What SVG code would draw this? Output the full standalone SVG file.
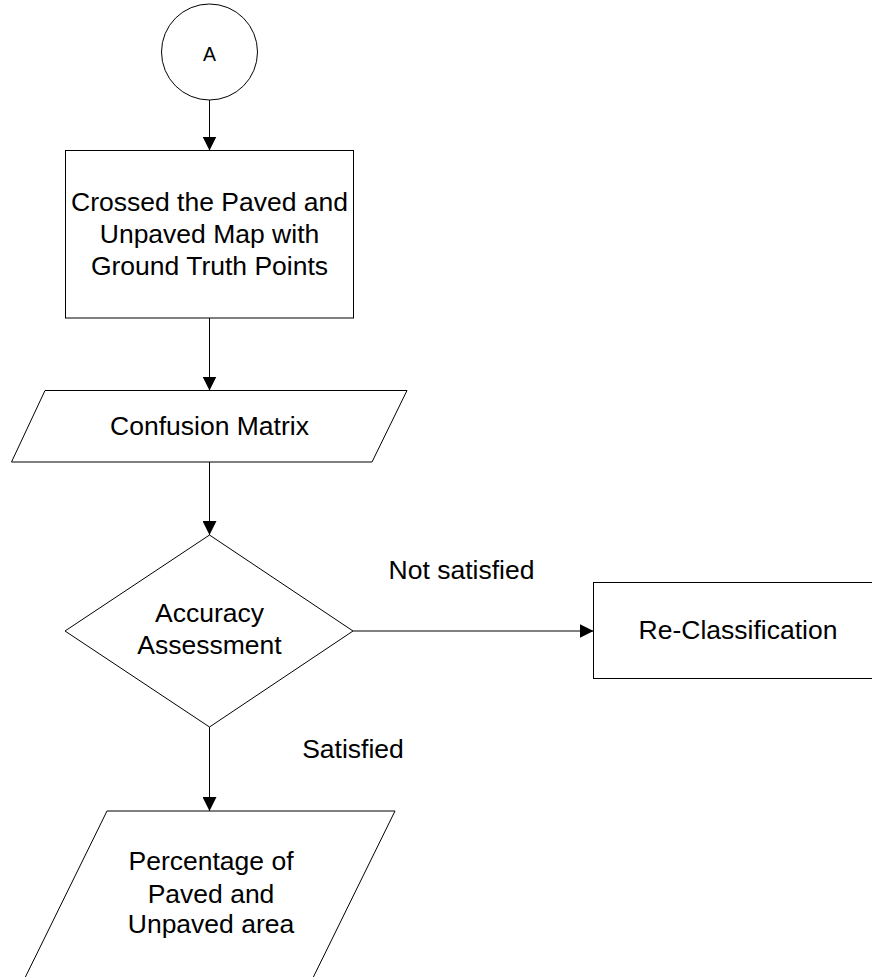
<svg xmlns="http://www.w3.org/2000/svg" width="872" height="977" viewBox="0 0 872 977">
<defs>
<marker id="ah" viewBox="0 0 10 10" refX="10" refY="5" markerWidth="14" markerHeight="14" markerUnits="userSpaceOnUse" orient="auto">
<path d="M0,0 L10,5 L0,10 Z" fill="#000"/>
</marker>
</defs>
<style>
.s{fill:#fff;stroke:#000;stroke-width:1}
.t{font-family:"Liberation Sans",Arial,sans-serif;font-size:26.5px;fill:#000;text-anchor:middle}
.c{stroke:#000;stroke-width:1;fill:none;marker-end:url(#ah)}
</style>
<rect width="872" height="977" fill="#fff"/>
<g id="connectors">
<line class="c" x1="209.5" y1="100" x2="209.5" y2="150.5"/>
<line class="c" x1="209.5" y1="318" x2="209.5" y2="390.5"/>
<line class="c" x1="209.5" y1="462" x2="209.5" y2="535"/>
<line class="c" x1="353" y1="631" x2="593.5" y2="631"/>
<line class="c" x1="209.5" y1="727" x2="209.5" y2="811"/>
<text class="t" x="461.5" y="579">Not satisfied</text>
<text class="t" x="353" y="758">Satisfied</text>
</g>
<g id="nodeA">
<circle class="s" cx="209.5" cy="52" r="48"/>
<text class="t" x="209.5" y="60.5" style="font-size:19.5px">A</text>
</g>
<g id="crossed">
<rect class="s" x="65.5" y="150.5" width="288" height="167.5"/>
<text class="t" x="209.5" y="211">Crossed the Paved and</text>
<text class="t" x="209.5" y="243">Unpaved Map with</text>
<text class="t" x="209.5" y="275">Ground Truth Points</text>
</g>
<g id="confusion">
<polygon class="s" points="45,390.5 407,390.5 372,462 11.5,462"/>
<text class="t" x="209.5" y="435">Confusion Matrix</text>
</g>
<g id="accuracy">
<polygon class="s" points="209.5,535 353,631 209.5,727 65,631"/>
<text class="t" x="209.5" y="622">Accuracy</text>
<text class="t" x="209.5" y="654">Assessment</text>
</g>
<g id="reclass">
<rect class="s" x="593.5" y="582.5" width="290" height="96"/>
<text class="t" x="738" y="639">Re-Classification</text>
</g>
<g id="percentage">
<polygon class="s" points="107,811 395,811 307,990 19,990"/>
<text class="t" x="211" y="870">Percentage of</text>
<text class="t" x="211" y="903">Paved and</text>
<text class="t" x="211" y="933">Unpaved area</text>
</g>
</svg>
